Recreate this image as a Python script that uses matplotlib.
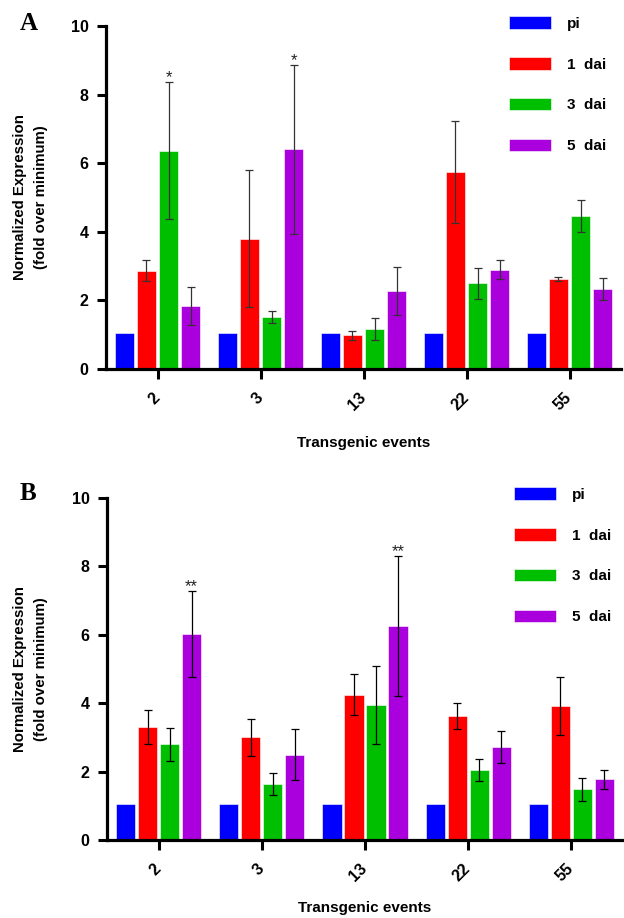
import matplotlib
matplotlib.use("Agg")
import matplotlib.pyplot as plt
import numpy as np

plt.rcParams['font.family'] = ['Liberation Sans', 'DejaVu Sans']
plt.rcParams['font.weight'] = 'bold'

events = ["2", "3", "13", "22", "55"]
series = ["pi", "1  dai", "3  dai", "5  dai"]
colors = ["#0000FF", "#FF0000", "#00BE00", "#AA00DD"]

# panel A: mean and error per series (rows) and event (columns)
a_pi = [1.05, 1.05, 1.05, 1.05, 1.05]
a_1dai = [2.87, 3.80, 0.98, 5.75, 2.62]
a_3dai = [6.37, 1.52, 1.17, 2.50, 4.45]
a_5dai = [1.83, 6.40, 2.28, 2.90, 2.33]
a_pi_err = [0, 0, 0, 0, 0]
a_1dai_err = [0.30, 2.00, 0.12, 1.48, 0.05]
a_3dai_err = [2.00, 0.17, 0.32, 0.45, 0.47]
a_5dai_err = [0.55, 2.45, 0.70, 0.28, 0.33]
a_stars = [(0, 2, "*"), (1, 3, "*")]

# panel B
b_pi = [1.05, 1.05, 1.05, 1.05, 1.05]
b_1dai = [3.30, 3.00, 4.25, 3.63, 3.92]
b_3dai = [2.80, 1.64, 3.95, 2.05, 1.48]
b_5dai = [6.03, 2.50, 6.25, 2.72, 1.77]
b_pi_err = [0, 0, 0, 0, 0]
b_1dai_err = [0.50, 0.55, 0.60, 0.38, 0.85]
b_3dai_err = [0.48, 0.33, 1.15, 0.33, 0.33]
b_5dai_err = [1.25, 0.75, 2.05, 0.48, 0.27]
b_stars = [(0, 3, "**"), (2, 3, "**")]

W, H = 624, 918
fig = plt.figure(figsize=(W / 100, H / 100), dpi=100)


def panel(rect, vals, errs, stars, letter, letter_xy, ecol, leg_xy, xpad):
    ax = fig.add_axes(rect)
    x = np.arange(len(events))
    pitch = 0.2136
    for i, (v, e, c, lab) in enumerate(zip(vals, errs, colors, series)):
        pos = x + (i - 1.5) * pitch
        ax.bar(pos, v, width=0.186, color=c, edgecolor="white", linewidth=0.4,
               label=lab, zorder=2)
        ee = np.array(e)
        m = ee > 0
        ax.errorbar(pos[m], np.array(v)[m], yerr=ee[m], fmt="none", ecolor=ecol,
                    elinewidth=0.9, capsize=2.6, capthick=0.9, zorder=3)
    for g, s, txt in stars:
        top = vals[s][g] + errs[s][g]
        ax.annotate(txt, (g + (s - 1.5) * pitch, top), xytext=(0, -2),
                    textcoords="offset points", ha="center", va="bottom",
                    fontsize=12, fontweight="normal", color="#222222")
    ax.set_xlim(-0.5, 4.5)
    ax.set_ylim(0, 10)
    ax.set_yticks([0, 2, 4, 6, 8, 10])
    ax.set_xticks(x)
    ax.set_xticklabels(events, rotation=45, ha="right", va="center",
                       rotation_mode="anchor", fontsize=11.5, fontweight="bold")
    for lbl in ax.get_yticklabels():
        lbl.set_fontsize(11.5)
        lbl.set_fontweight("bold")
    ax.tick_params(axis="x", length=7, width=2.2, pad=12)
    ax.tick_params(axis="y", length=6.5, width=2.2, pad=6)
    for sp in ["top", "right"]:
        ax.spines[sp].set_visible(False)
    for sp in ["left", "bottom"]:
        ax.spines[sp].set_linewidth(2.3)
    ax.set_xlabel("Transgenic events", fontsize=11, fontweight="bold", labelpad=xpad)
    by = rect[1] + rect[3] / 2
    fig.text(30.5 / W, by, "Normalized Expression\n(fold over minimum)",
             rotation=90, ha="center", va="center", fontsize=10.8,
             fontweight="bold", linespacing=1.6)
    fig.text(letter_xy[0] / W, 1 - letter_xy[1] / H, letter, fontsize=18,
             fontweight="bold", family="Liberation Serif", ha="center", va="center")
    ax.legend(loc="upper left", bbox_to_anchor=(leg_xy[0] / W, 1 - leg_xy[1] / H),
              bbox_transform=fig.transFigure, frameon=False, fontsize=11,
              handlelength=2.75, handleheight=0.9, labelspacing=1.72,
              handletextpad=1.05, borderpad=0, borderaxespad=0)
    return ax


panel([106 / W, 1 - 369 / H, 515 / W, 343 / H],
      [a_pi, a_1dai, a_3dai, a_5dai],
      [a_pi_err, a_1dai_err, a_3dai_err, a_5dai_err],
      a_stars, "A", (29, 23), "#333333", (509, 16), 16)
panel([107 / W, 1 - 840 / H, 516 / W, 342 / H],
      [b_pi, b_1dai, b_3dai, b_5dai],
      [b_pi_err, b_1dai_err, b_3dai_err, b_5dai_err],
      b_stars, "B", (28, 493), "#000000", (514, 487), 12)

fig.savefig("out.png", dpi=100)
